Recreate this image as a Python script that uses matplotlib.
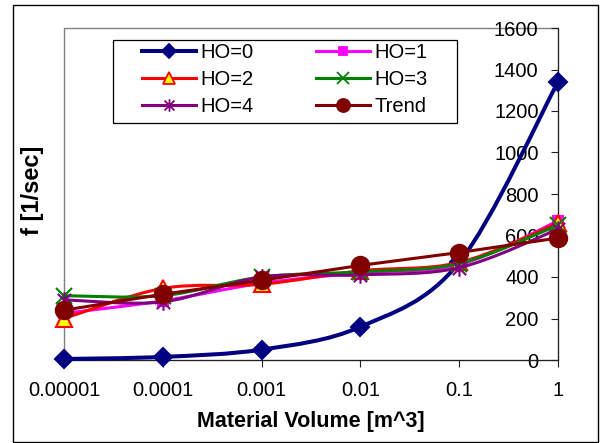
import numpy as np
import matplotlib
matplotlib.use("Agg")
import matplotlib.pyplot as plt
from matplotlib.path import Path
from matplotlib.patches import PathPatch, Rectangle
from matplotlib.lines import Line2D

plt.rcParams['font.family'] = ['Liberation Sans', 'DejaVu Sans']

# data
volume_labels = ['0.00001', '0.0001', '0.001', '0.01', '0.1', '1']
ho0 = [5, 15, 50, 160, 470, 1340]
ho1 = [225, 285, 370, 420, 460, 670]
ho2 = [200, 345, 365, 430, 470, 660]
ho3 = [310, 310, 400, 425, 465, 650]
ho4 = [290, 280, 400, 410, 445, 630]
trend = [240, 317, 384, 456, 518, 588]
y_ticks = [0, 200, 400, 600, 800, 1000, 1200, 1400, 1600]


def smooth_path(xs, ys):
    # excel style smoothed line, bezier segments through the points
    pts = np.column_stack([xs, ys]).astype(float)
    n = len(pts)
    verts = [pts[0]]
    codes = [Path.MOVETO]
    for i in range(n - 1):
        p0 = pts[max(i - 1, 0)]
        p1 = pts[i]
        p2 = pts[i + 1]
        p3 = pts[min(i + 2, n - 1)]
        verts += [p1 + (p2 - p0) / 6, p2 - (p3 - p1) / 6, p2]
        codes += [Path.CURVE4] * 3
    return Path(verts, codes)


# excel "star" marker: an x with a vertical bar through it
star = Path([(0, -1), (0, 1), (-0.8, -0.8), (0.8, 0.8), (-0.8, 0.8), (0.8, -0.8)],
            [Path.MOVETO, Path.LINETO] * 3)

series = [
    # label, values, line colour, marker, size, face, edge, lw, smooth
    ('HO=0', ho0, '#000080', 'D', 9, '#000080', '#000080', 2.9, True),
    ('HO=1', ho1, '#FF00FF', 's', 7, '#FF00FF', '#FF00FF', 2.2, True),
    ('HO=2', ho2, '#FF0000', '^', 11, '#FFFF00', '#FF0000', 2.2, True),
    ('HO=3', ho3, '#008000', 'x', 11, '#008000', '#008000', 2.2, True),
    ('HO=4', ho4, '#800080', star, 12, '#800080', '#800080', 2.2, True),
    ('Trend', trend, '#800000', 'o', 12.5, '#800000', '#800000', 2.2, False),
]

fig = plt.figure(figsize=(6, 4.43), dpi=100)
ax = fig.add_axes([64 / 600, 83 / 443, 494 / 600, 332 / 443])

x = np.arange(len(volume_labels))
handles = {}
for k, (label, vals, col, mk, ms, fc, ec, lw, smooth) in enumerate(series):
    z = 3 + k * 0.1
    if smooth:
        ax.add_patch(PathPatch(smooth_path(x, vals), fill=False, edgecolor=col,
                               lw=lw, capstyle='round', joinstyle='round',
                               zorder=z, clip_on=False))
    else:
        ax.plot(x, vals, color=col, lw=lw, zorder=z, clip_on=False)
    ax.plot(x, vals, linestyle='none', marker=mk, ms=ms, mfc=fc, mec=ec,
            mew=1.5, zorder=z + 0.05, clip_on=False)
    handles[label] = Line2D([], [], color=col, lw=lw, marker=mk, ms=ms * 0.75,
                            mfc=fc, mec=ec, mew=1.3)

ax.set_xlim(0, 5)
ax.set_ylim(0, 1600)
ax.set_xticks(x)
ax.set_xticklabels(volume_labels)
ax.set_yticks(y_ticks)

# value axis sits on the right edge, labels on its left
ax.spines['left'].set_position(('data', 5))
ax.spines['right'].set_visible(False)
ax.spines['top'].set_visible(False)
ax.spines['left'].set_color('#202020')
ax.spines['bottom'].set_color('#202020')
ax.patch.set_edgecolor('#808080')
ax.patch.set_linewidth(1.0)
ax.tick_params(axis='x', direction='out', length=5, width=0.8,
               labelsize=14.5, pad=10, colors='#202020', labelcolor='black')
ax.tick_params(axis='y', direction='out', length=5, width=0.8,
               labelsize=14.5, pad=9, colors='#202020', labelcolor='black')

order = ['HO=0', 'HO=2', 'HO=4', 'HO=1', 'HO=3', 'Trend']
ax.add_patch(Rectangle(((113 - 64) / 494, (360 - 123) / 332), 344 / 494, 83 / 332,
                       transform=ax.transAxes, fill=True, facecolor='white',
                       edgecolor='black', lw=0.9, zorder=5))
leg = ax.legend([handles[o] for o in order], order, ncol=2, frameon=False,
                loc='upper left', bbox_to_anchor=((142 - 64) / 494, (360 - 43) / 332),
                borderaxespad=0, borderpad=0, fontsize=14.5, handlelength=2.7,
                handletextpad=0.2, columnspacing=3.1, labelspacing=0.4)
leg.set_zorder(6)

fig.text(32 / 600, 1 - 190 / 443, 'f [1/sec]', rotation=90, fontsize=17,
         fontweight='bold', ha='center', va='center')
fig.text(311 / 600, 1 - 422 / 443, 'Material Volume [m^3]', fontsize=15.5,
         fontweight='bold', ha='center', va='center')

fig.patches.append(Rectangle((13 / 600, 1 / 443), 585 / 600, 437 / 443,
                             transform=fig.transFigure, fill=False,
                             edgecolor='black', lw=1.0))

fig.savefig('out.png', dpi=100)
